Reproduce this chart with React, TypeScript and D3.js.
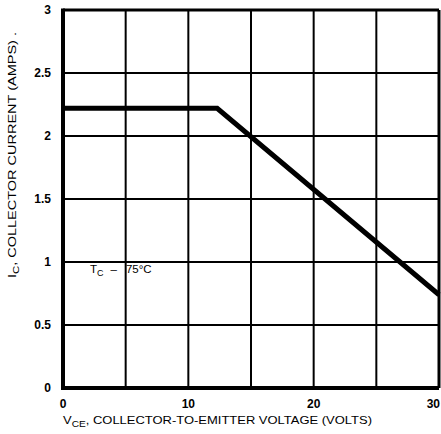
import React, { useEffect, useRef } from "react";
import * as d3 from "d3";

// safe operating curve
const vce = [0, 12.3, 30];
const ic = [2.22, 2.22, 0.74];
const xTicks = [0, 10, 20, 30];
const xGrid = [5, 10, 15, 20, 25];
const yTicks = [0, 0.5, 1, 1.5, 2, 2.5, 3];
const yTickLabels = ["0", "0.5", "1", "1.5", "2", "2.5", "3"];

const W = 441;
const H = 434;
const FONT = "'Liberation Sans Narrow', 'Liberation Sans', Arial, sans-serif";

const App = () => {
  const svgRef = useRef<SVGSVGElement>(null);

  useEffect(() => {
    const svg = d3.select(svgRef.current);
    svg.selectAll("*").remove();

    const x = d3.scaleLinear().domain([0, 30]).range([63, 439]);
    const y = d3.scaleLinear().domain([0, 3]).range([388, 10]);

    svg.append("rect").attr("width", W).attr("height", H).attr("fill", "white");

    // grid
    svg
      .append("g")
      .selectAll("line")
      .data(xGrid)
      .join("line")
      .attr("x1", (d) => x(d))
      .attr("x2", (d) => x(d))
      .attr("y1", y(3))
      .attr("y2", y(0))
      .attr("stroke", "black")
      .attr("stroke-width", 2);

    svg
      .append("g")
      .selectAll("line")
      .data(yTicks.slice(1, -1))
      .join("line")
      .attr("x1", x(0))
      .attr("x2", x(30))
      .attr("y1", (d) => y(d))
      .attr("y2", (d) => y(d))
      .attr("stroke", "black")
      .attr("stroke-width", 2);

    // frame
    const frame = svg.append("g").attr("stroke", "black").attr("fill", "none");
    frame.append("line").attr("x1", x(0)).attr("x2", x(30)).attr("y1", y(3)).attr("y2", y(3)).attr("stroke-width", 3);
    frame.append("line").attr("x1", x(30)).attr("x2", x(30)).attr("y1", y(3)).attr("y2", y(0)).attr("stroke-width", 3);
    frame.append("line").attr("x1", x(0) - 2).attr("x2", x(30)).attr("y1", y(0)).attr("y2", y(0)).attr("stroke-width", 4);
    frame.append("line").attr("x1", x(0)).attr("x2", x(0)).attr("y1", y(3) - 1.5).attr("y2", y(0) + 2).attr("stroke-width", 4);

    // curve
    const pts = vce.map((v, i) => [v, ic[i]] as [number, number]);
    svg
      .append("path")
      .datum(pts)
      .attr("fill", "none")
      .attr("stroke", "black")
      .attr("stroke-width", 5)
      .attr("stroke-linejoin", "miter")
      .attr("d", d3.line().x((d) => x(d[0])).y((d) => y(d[1])));

    // tick labels (last one pulled in so it stays on the page)
    svg
      .append("g")
      .selectAll("text")
      .data(xTicks)
      .join("text")
      .attr("x", (d, i) => (i === xTicks.length - 1 ? W - 1 : x(d)))
      .attr("y", 408)
      .attr("text-anchor", (d, i) => (i === xTicks.length - 1 ? "end" : "middle"))
      .attr("font-family", FONT)
      .attr("font-size", 12)
      .attr("font-weight", "bold")
      .text((d) => String(d));

    svg
      .append("g")
      .selectAll("text")
      .data(yTicks)
      .join("text")
      .attr("x", 51)
      .attr("y", (d) => y(d) + 4)
      .attr("text-anchor", "end")
      .attr("font-family", FONT)
      .attr("font-size", 12)
      .attr("font-weight", "bold")
      .text((d, i) => yTickLabels[i]);

    // x title
    const xt = svg
      .append("text")
      .attr("x", 63)
      .attr("y", 424)
      .attr("font-family", FONT)
      .attr("font-size", 11.5)
      .attr("textLength", 309)
      .attr("lengthAdjust", "spacingAndGlyphs");
    xt.append("tspan").text("V");
    xt.append("tspan").attr("font-size", 9).attr("dy", 3).text("CE");
    xt.append("tspan").attr("dy", -3).text(", COLLECTOR-TO-EMITTER VOLTAGE (VOLTS)");

    // y title
    const yt = svg
      .append("text")
      .attr("transform", "translate(16,278) rotate(-90)")
      .attr("font-family", FONT)
      .attr("font-size", 11.5)
      .attr("textLength", 246)
      .attr("lengthAdjust", "spacingAndGlyphs");
    yt.append("tspan").text("I");
    yt.append("tspan").attr("font-size", 9).attr("dy", 3).text("C");
    yt.append("tspan").attr("dy", -3).text(", COLLECTOR CURRENT (AMPS) .");

    // annotation
    const tc = svg
      .append("text")
      .attr("x", 90)
      .attr("y", 273)
      .attr("font-family", FONT)
      .attr("font-size", 11.5);
    tc.append("tspan").text("T");
    tc.append("tspan").attr("font-size", 9).attr("dy", 3).text("C");
    tc.append("tspan").attr("dy", -3).attr("dx", 7).text("–");
    tc.append("tspan").attr("dx", 9).text("75°C");
  }, []);

  return (
    <div style={{ position: "absolute", left: 0, top: 0 }}>
      <svg ref={svgRef} width={W} height={H} style={{ display: "block" }}></svg>
    </div>
  );
};

export default App;
